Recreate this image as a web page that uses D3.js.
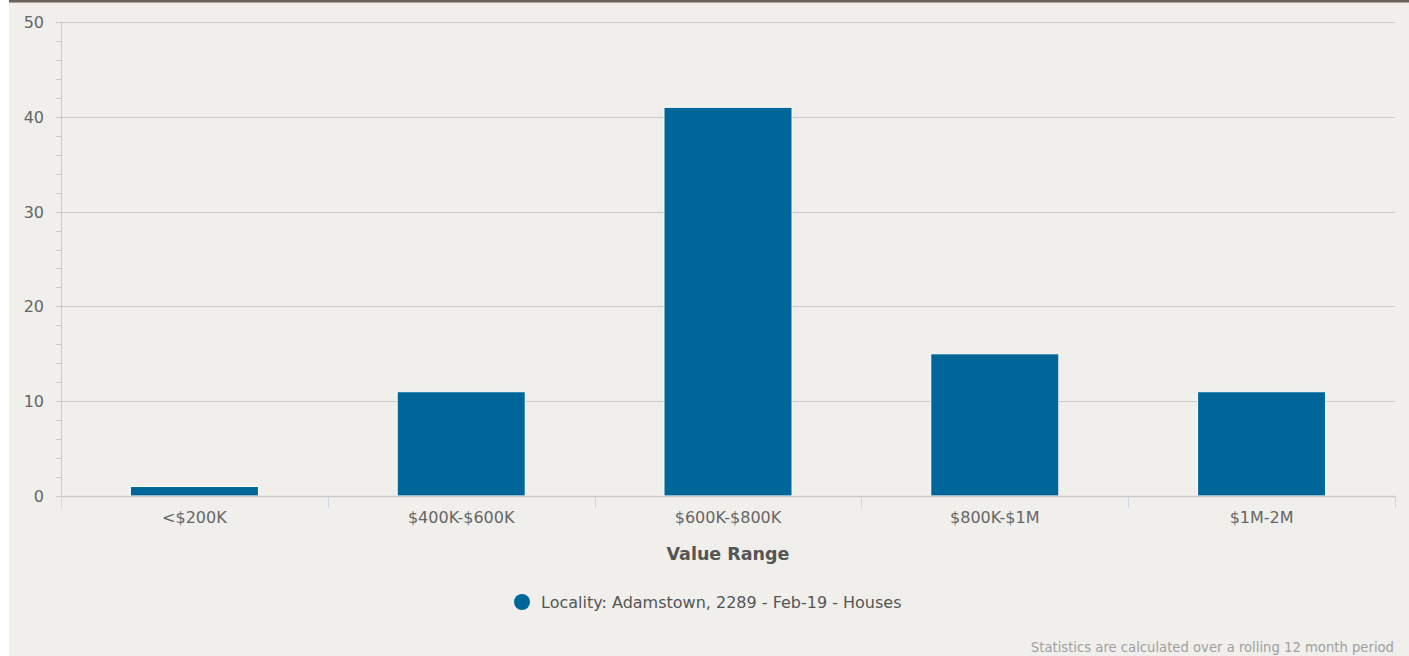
<!DOCTYPE html>
<html>
<head>
<meta charset="utf-8">
<script src="https://cdn.jsdelivr.net/npm/d3@7"></script>
<style>
  body { margin: 0; background: #fff; }
  svg { display: block; font-family: "DejaVu Sans", sans-serif; }
</style>
</head>
<body>
<svg id="chart" width="1409" height="656"></svg>
<script>
// chart data
var categories = ["<$200K", "$400K-$600K", "$600K-$800K", "$800K-$1M", "$1M-2M"];
var counts = [1, 11, 41, 15, 11];
var yTicks = [0, 10, 20, 30, 40, 50];
var seriesName = "Locality: Adamstown, 2289 - Feb-19 - Houses";
var xTitle = "Value Range";
var footnote = "Statistics are calculated over a rolling 12 month period";

var svg = d3.select("#chart"),
    width = +svg.attr("width"),
    height = +svg.attr("height");

// panel background + top rule
svg.append("rect").attr("x", 9).attr("y", 0).attr("width", width - 9).attr("height", height).attr("fill", "#f0efeb");
svg.append("rect").attr("x", 9).attr("y", 0).attr("width", width - 9).attr("height", 2.5).attr("fill", "#6b6058");

var plotL = 61, plotR = 1395, plotT = 22, plotB = 496;

var x = d3.scaleBand().domain(categories).range([plotL, plotR]).paddingInner(0).paddingOuter(0);
var y = d3.scaleLinear().domain([0, 50]).range([plotB, plotT]);

// gridlines
svg.append("g").selectAll("line")
    .data(yTicks.filter(function(d) { return d > 0; }))
    .enter().append("line")
    .attr("x1", plotL).attr("x2", plotR)
    .attr("y1", function(d) { return Math.round(y(d)) + 0.5; })
    .attr("y2", function(d) { return Math.round(y(d)) + 0.5; })
    .attr("stroke", "#c9c9c7").attr("stroke-width", 1.2);

// y axis line + minor ticks
svg.append("line").attr("x1", plotL + 0.5).attr("x2", plotL + 0.5).attr("y1", plotT).attr("y2", plotB)
    .attr("stroke", "#c9c9c7");
svg.append("g").selectAll("line")
    .data(d3.range(0, 51, 2))
    .enter().append("line")
    .attr("x1", plotL - 5).attr("x2", plotL)
    .attr("y1", function(d) { return Math.round(y(d)) + 0.5; })
    .attr("y2", function(d) { return Math.round(y(d)) + 0.5; })
    .attr("stroke", "#c9c9c7");

// y labels
svg.append("g").selectAll("text")
    .data(yTicks)
    .enter().append("text")
    .attr("x", 44).attr("y", function(d) { return y(d) + 6; })
    .attr("text-anchor", "end")
    .attr("font-size", 16).attr("fill", "#666")
    .text(function(d) { return d; });

// bars
svg.append("g").selectAll("rect")
    .data(counts)
    .enter().append("rect")
    .attr("x", function(d, i) { return x(categories[i]) + x.bandwidth() * 0.26; })
    .attr("width", x.bandwidth() * 0.48)
    .attr("y", function(d) { return y(d); })
    .attr("height", function(d) { return plotB - y(d); })
    .attr("fill", "#006699")
    .attr("stroke", "#fff").attr("stroke-width", 1);

// x axis
svg.append("line").attr("x1", plotL).attr("x2", plotR).attr("y1", plotB + 0.5).attr("y2", plotB + 0.5)
    .attr("stroke", "#c9c9c7").attr("stroke-width", 1.5);
var bounds = categories.map(function(c) { return x(c); }).concat([plotR]);
svg.append("g").selectAll("line")
    .data(bounds)
    .enter().append("line")
    .attr("x1", function(d) { return Math.round(d) + 0.5; }).attr("x2", function(d) { return Math.round(d) + 0.5; })
    .attr("y1", plotB).attr("y2", plotB + 12)
    .attr("stroke", "#ccd6eb");

svg.append("g").selectAll("text")
    .data(categories)
    .enter().append("text")
    .attr("x", function(d) { return x(d) + x.bandwidth() / 2; })
    .attr("y", 523)
    .attr("text-anchor", "middle")
    .attr("font-size", 16).attr("fill", "#666")
    .text(function(d) { return d; });

svg.append("text")
    .attr("x", (plotL + plotR) / 2).attr("y", 560)
    .attr("text-anchor", "middle")
    .attr("font-size", 17.5).attr("font-weight", "bold").attr("fill", "#555")
    .text(xTitle);

// legend
svg.append("circle").attr("cx", 522).attr("cy", 602).attr("r", 8).attr("fill", "#006699");
svg.append("text").attr("x", 541).attr("y", 608)
    .attr("font-size", 16).attr("fill", "#555")
    .text(seriesName);

// footnote
svg.append("text").attr("x", 1394).attr("y", 652)
    .attr("text-anchor", "end")
    .attr("font-size", 13.2).attr("fill", "#a0a0a0")
    .text(footnote);
</script>
</body>
</html>
